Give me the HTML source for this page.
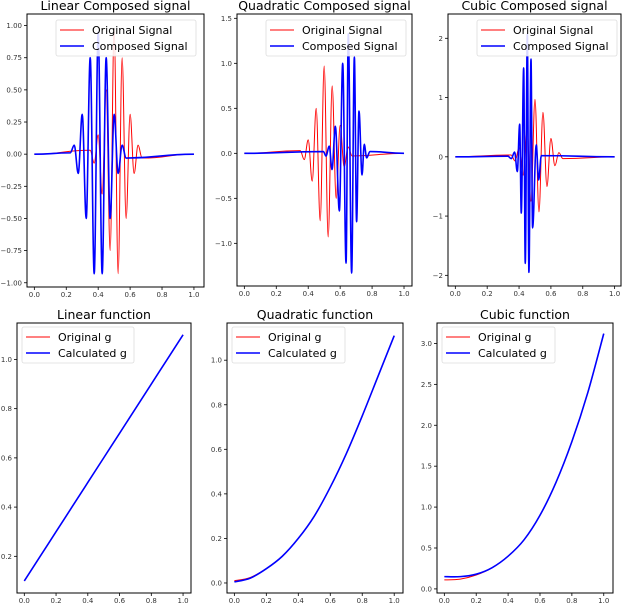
<!DOCTYPE html>
<html><head><meta charset="utf-8"><style>
body{margin:0;background:#fff;width:624px;height:604px;overflow:hidden}
svg{display:block;font-family:"DejaVu Sans","Liberation Sans",sans-serif}
</style></head><body>
<svg id="fig" width="624" height="604" viewBox="0 0 624 604"></svg>
<script>
// ---- data ----
const redSigX = [0.35,0.375,0.40,0.425,0.45,0.475,0.50,0.525,0.55,0.575,0.60,0.625,0.65,0.675];
const redSigY = [0.03,-0.07,0.15,-0.31,0.5,-0.75,0.97,-0.93,0.75,-0.5,0.31,-0.15,0.07,-0.03];
const linBlueX = [0.225,0.25,0.275,0.30,0.325,0.35,0.375,0.40,0.425,0.45,0.475,0.50,0.525,0.55,0.575];
const linBlueY = [0.01,0.07,-0.15,0.31,-0.5,0.75,-0.93,0.95,-0.93,0.75,-0.5,0.31,-0.15,0.07,-0.03];
const quadBlueX = [0.495,0.511,0.532,0.549,0.570,0.595,0.616,0.637,0.651,0.672,0.689,0.703,0.718,0.737,0.751,0.766,0.787];
const quadBlueY = [0.02,-0.03,0.08,-0.18,0.3,-0.64,1.0,-1.22,1.33,-1.33,1.07,-0.76,0.47,-0.24,0.1,-0.05,0.02];
const cubBlueX = [0.330,0.351,0.372,0.389,0.404,0.414,0.429,0.439,0.452,0.462,0.475,0.485,0.508,0.523,0.540];
const cubBlueY = [0.01,-0.03,0.08,-0.25,0.55,-0.95,1.5,-1.8,2.07,-1.95,1.65,-1.2,0.2,-0.39,0.02];
const gX = [0,0.1,0.2,0.3,0.4,0.5,0.6,0.7,0.8,0.9,1.0];
const linOrig = [0.1,0.2,0.3,0.4,0.5,0.6,0.7,0.8,0.9,1.0,1.1];
const linCalc = [0.1,0.2,0.3,0.4,0.5,0.6,0.7,0.8,0.9,1.0,1.1];
const quadOrig = [0.01,0.025,0.065,0.12,0.2,0.3,0.43,0.58,0.75,0.93,1.11];
const quadCalc = [0.005,0.022,0.064,0.12,0.2,0.3,0.43,0.58,0.75,0.93,1.11];
const cubOrig = [0.11,0.12,0.17,0.26,0.4,0.6,0.9,1.3,1.8,2.4,3.12];
const cubCalc = [0.15,0.15,0.18,0.26,0.4,0.6,0.9,1.3,1.8,2.4,3.12];
const xTicks = [0,0.2,0.4,0.6,0.8,1.0];
const xTickLabels = ["0.0","0.2","0.4","0.6","0.8","1.0"];

const NS="http://www.w3.org/2000/svg";
const fig=document.getElementById('fig');
function mk(tag,attrs,parent){const e=document.createElementNS(NS,tag);for(const k in attrs)e.setAttribute(k,attrs[k]);(parent||fig).appendChild(e);return e;}

function panel(p){
  const g=mk('g',{});
  
  
  const sx=v=>p.l+(v-p.x0)/(p.x1-p.x0)*(p.r-p.l);
  const sy=v=>p.b-(v-p.y0)/(p.y1-p.y0)*(p.b-p.t);
  p.series.forEach(s=>{
    let d;
    if(s.signal){
      const xs=[0].concat(s.xs,[1]), ys=[0].concat(s.ys,[0]);
      d='M'+sx(xs[0])+','+sy(ys[0]);
      for(let i=1;i<xs.length;i++){
        const xa=sx(xs[i-1]),xb=sx(xs[i]),ya=sy(ys[i-1]),yb=sy(ys[i]);
        const k=(i==1||i==xs.length-1)?0.5:0.36;
        const dx=(xb-xa)*k;
        d+=' C'+(xa+dx)+','+ya+' '+(xb-dx)+','+yb+' '+xb+','+yb;
      }
    } else {
      const P=s.xs.map((x,i)=>[sx(x),sy(s.ys[i])]);
      d='M'+P[0][0]+','+P[0][1];
      for(let i=0;i<P.length-1;i++){
        const p0=P[Math.max(0,i-1)],p1=P[i],p2=P[i+1],p3=P[Math.min(P.length-1,i+2)];
        const c1=[p1[0]+(p2[0]-p0[0])/6,p1[1]+(p2[1]-p0[1])/6];
        const c2=[p2[0]-(p3[0]-p1[0])/6,p2[1]-(p3[1]-p1[1])/6];
        d+=' C'+c1[0]+','+c1[1]+' '+c2[0]+','+c2[1]+' '+p2[0]+','+p2[1];
      }
    }
    const path=mk('path',{d:d,fill:'none',stroke:s.color,'stroke-width':s.w,'stroke-linejoin':'round'},g);
    
    
  });
  const fr=mk('rect',{x:p.l,y:p.t,width:p.r-p.l,height:p.b-p.t,fill:'none',stroke:'#000','stroke-width':1},g);
  
  
  xTicks.forEach((v,i)=>{
    const x=sx(v);
    mk('line',{x1:x,x2:x,y1:p.b,y2:p.b+3,stroke:'#000','stroke-width':0.8},g);
    const t=mk('text',{x:x,y:p.b+10,'font-size':7,'text-anchor':'middle',fill:'#333'},g);
    t.textContent=xTickLabels[i];
    
    
  });
  p.yTicks.forEach((v,i)=>{
    const y=sy(v);
    mk('line',{x1:p.l-3,x2:p.l,y1:y,y2:y,stroke:'#000','stroke-width':0.8},g);
    const t=mk('text',{x:p.l-5,y:y+2.5,'font-size':7,'text-anchor':'end',fill:'#333'},g);
    t.textContent=p.yLabels[i];
    
    
  });
  const ti=mk('text',{x:(p.l+p.r)/2,y:p.t-4,'font-size':12.5,'text-anchor':'middle',fill:'#000'},g);
  ti.textContent=p.title;
  
  
  const L=p.leg;
  const lg=mk('g',{},g);
  
  
  mk('rect',{x:L.x,y:L.y,width:L.w,height:36,fill:'#fff','fill-opacity':0.85,stroke:'#ddd','stroke-width':0.8,rx:2},lg);
  p.series.forEach((s,i)=>{
    const yy=L.y+10+i*16;
    mk('line',{x1:L.x+4,x2:L.x+28,y1:yy,y2:yy,stroke:s.color,'stroke-width':s.w},lg);
    const t=mk('text',{x:L.x+36,y:yy+4,'font-size':11,fill:'#000'},lg);
    t.textContent=s.label;
    
    
  });
}
const sigLeg=['Original Signal','Composed Signal'], gLeg=['Original g','Calculated g'];
function sig(rx,ry,bx,by){return [
  {signal:true,xs:rx,ys:ry,color:'#ff0000',w:1,name:'original-signal-line',label:sigLeg[0]},
  {signal:true,xs:bx,ys:by,color:'#0000ff',w:1.6,name:'composed-signal-line',label:sigLeg[1]}];}
function gs(o,c){return [
  {xs:gX,ys:o,color:'#ff0000',w:1,name:'original-g-line',label:gLeg[0]},
  {xs:gX,ys:c,color:'#0000ff',w:1.6,name:'calculated-g-line',label:gLeg[1]}];}

panel({name:'linear-signal-chart',title:'Linear Composed signal',l:27,r:204,t:14,b:287,x0:-0.046,x1:1.063,y0:-1.033,y1:1.09,
  yTicks:[-1,-0.75,-0.5,-0.25,0,0.25,0.5,0.75,1],yLabels:['\u22121.00','\u22120.75','\u22120.50','\u22120.25','0.00','0.25','0.50','0.75','1.00'],
  series:sig(redSigX,redSigY,linBlueX,linBlueY),leg:{x:56,y:20,w:140}});
panel({name:'quadratic-signal-chart',title:'Quadratic Composed signal',l:237,r:412,t:14,b:286,x0:-0.046,x1:1.05,y0:-1.474,y1:1.548,
  yTicks:[-1,-0.5,0,0.5,1,1.5],yLabels:['\u22121.0','\u22120.5','0.0','0.5','1.0','1.5'],
  series:sig(redSigX,redSigY,quadBlueX,quadBlueY),leg:{x:266,y:20,w:140}});
panel({name:'cubic-signal-chart',title:'Cubic Composed signal',l:448,r:621,t:14,b:286,x0:-0.046,x1:1.04,y0:-2.18,y1:2.41,
  yTicks:[-2,-1,0,1,2],yLabels:['\u22122','\u22121','0','1','2'],
  series:sig(redSigX,redSigY,cubBlueX,cubBlueY),leg:{x:477,y:20,w:140}});
panel({name:'linear-function-chart',title:'Linear function',l:17,r:191,t:323,b:593,x0:-0.046,x1:1.05,y0:0.051,y1:1.148,
  yTicks:[0.2,0.4,0.6,0.8,1.0],yLabels:['0.2','0.4','0.6','0.8','1.0'],
  series:gs(linOrig,linCalc),leg:{x:22,y:327,w:112}});
panel({name:'quadratic-function-chart',title:'Quadratic function',l:227,r:403,t:323,b:593,x0:-0.046,x1:1.055,y0:-0.045,y1:1.167,
  yTicks:[0,0.2,0.4,0.6,0.8,1.0],yLabels:['0.0','0.2','0.4','0.6','0.8','1.0'],
  series:gs(quadOrig,quadCalc),leg:{x:232,y:327,w:113}});
panel({name:'cubic-function-chart',title:'Cubic function',l:437,r:613,t:323,b:593,x0:-0.046,x1:1.058,y0:-0.05,y1:3.25,
  yTicks:[0,0.5,1,1.5,2,2.5,3],yLabels:['0.0','0.5','1.0','1.5','2.0','2.5','3.0'],
  series:gs(cubOrig,cubCalc),leg:{x:442,y:327,w:113}});
</script>
</body></html>
